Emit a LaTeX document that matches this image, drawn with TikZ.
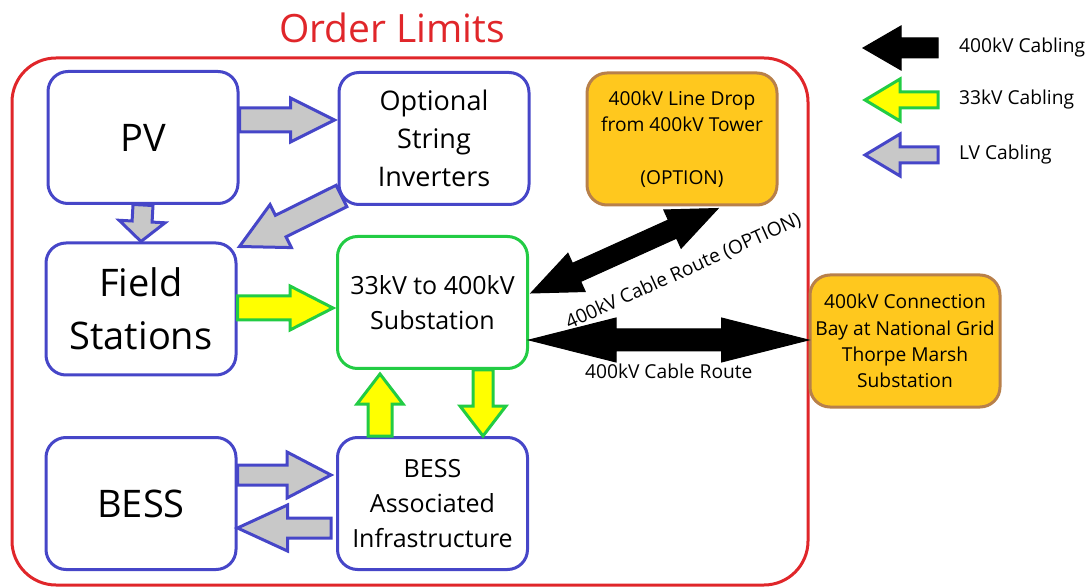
\documentclass[tikz,border=0pt]{standalone}
\usepackage{fontspec}
\setmainfont{Open Sans}
\usetikzlibrary{calc,positioning}
\definecolor{lvblue}{HTML}{4646C8}
\definecolor{lvgrey}{HTML}{C8C8C8}
\definecolor{mvgreen}{HTML}{22CC44}
\definecolor{mvyellow}{HTML}{FFFF00}
\definecolor{limred}{HTML}{E0262A}
\definecolor{optfill}{HTML}{FFC81E}
\definecolor{optedge}{HTML}{B8804A}

\tikzset{
  unit/.style={draw=lvblue,line width=1.5pt,rounded corners=10pt,fill=white,align=center,
    minimum width=95pt,minimum height=66pt,inner sep=0pt},
  subst/.style={unit,draw=mvgreen},
  option/.style={unit,draw=optedge,fill=optfill},
  lvarrow/.style={draw=lvblue,fill=lvgrey,line width=1.5pt},
  mvarrow/.style={draw=mvgreen,fill=mvyellow,line width=1.5pt},
  hvarrow/.style={draw=black,fill=black,line width=0.5pt},
  bigtext/.style={font=\fontsize{19}{26.5}\selectfont},
  midtext/.style={font=\fontsize{12.5}{17.6}\selectfont},
  smalltext/.style={font=\fontsize{9.6}{13.2}\selectfont},
}

% block arrow: style, tail, tip, shaft half width, head half width, head length
\newcommand{\fatarrow}[6]{%
  \path #2 coordinate (fa-t) #3 coordinate (fa-p);
  \path ($(fa-p)!#6!(fa-t)$) coordinate (fa-h);
  \draw[#1] ($(fa-t)!#4!90:(fa-p)$) -- ($(fa-h)!#4!90:(fa-p)$) -- ($(fa-h)!#5!90:(fa-p)$)
    -- (fa-p) -- ($(fa-h)!#5!-90:(fa-p)$) -- ($(fa-h)!#4!-90:(fa-p)$) -- ($(fa-t)!#4!-90:(fa-p)$) -- cycle;
}
% block arrow with two heads: style, end a, end b, shaft half width, head half width, head length
\newcommand{\dblarrow}[6]{%
  \path #2 coordinate (da-a) #3 coordinate (da-b);
  \path ($(da-a)!#6!(da-b)$) coordinate (da-ha) ($(da-b)!#6!(da-a)$) coordinate (da-hb);
  \draw[#1] (da-a) -- ($(da-ha)!#5!90:(da-b)$) -- ($(da-ha)!#4!90:(da-b)$) -- ($(da-hb)!#4!-90:(da-a)$)
    -- ($(da-hb)!#5!-90:(da-a)$) -- (da-b) -- ($(da-hb)!#5!90:(da-a)$) -- ($(da-hb)!#4!90:(da-a)$)
    -- ($(da-ha)!#4!-90:(da-b)$) -- ($(da-ha)!#5!-90:(da-b)$) -- cycle;
}

\begin{document}
\begin{tikzpicture}[x=0.5pt,y=-0.5pt]
\useasboundingbox (0,0) rectangle (1086,587);
% order limits
\draw[limred,line width=1.5pt,rounded corners=22pt] (12,58) rectangle (808,585);
\node[limred,font=\fontsize{19.5}{24}\selectfont] (limits) at (392,28) {Order Limits};
% boxes
\node[unit,bigtext] (pv) at (143,137.5) {PV};
\node[unit,font=\fontsize{13.5}{19}\selectfont] (inv) at (434,138.5) {Optional\\String\\Inverters};
\node[unit,bigtext] (field) at (141,309) {Field\\Stations};
\node[subst,midtext] (sub) at (432.5,302.5) {33kV to 400kV\\Substation};
\node[unit,bigtext] (bess) at (141,503.5) {BESS};
\node[unit,midtext] (infra) at (432.5,503.5) {BESS\\Associated\\Infrastructure};
\node[option,smalltext] (drop) at (682,139) {400kV Line Drop\\from 400kV Tower\\\mbox{}\\(OPTION)};
\node[option,smalltext] (grid) at (905,341) {400kV Connection\\Bay at National Grid\\Thorpe Marsh\\Substation};
% LV cabling
\fatarrow{lvarrow}{($(pv.east)+(0,-17.5)$)}{($(inv.west)+(-3,-18.5)$)}{6pt}{11pt}{22pt}
\fatarrow{lvarrow}{(pv.south)}{(field.north)}{5pt}{11.5pt}{10pt}
\fatarrow{lvarrow}{($(inv.south west)+(4,-10)$)}{($(field.north east)+(2,5)$)}{6pt}{12pt}{23pt}
\fatarrow{lvarrow}{($(bess.east)+(0,-28.5)$)}{($(infra.west)+(-5,-28.5)$)}{5pt}{11.5pt}{22pt}
\fatarrow{lvarrow}{($(infra.west)+(-5,24.5)$)}{($(bess.east)+(0,24.5)$)}{5pt}{11.5pt}{25pt}
% 33kV cabling
\fatarrow{mvarrow}{($(field.east)+(0,-1)$)}{($(sub.west)+(-3,5.5)$)}{6pt}{11pt}{21.5pt}
\fatarrow{mvarrow}{($(infra.north)+(-52.5,0)$)}{($(sub.south)+(-52.5,4)$)}{6pt}{11.5pt}{15pt}
\fatarrow{mvarrow}{($(sub.south)+(50.5,0)$)}{($(infra.north)+(50.5,0)$)}{5pt}{11.5pt}{15pt}
% 400kV cabling
\dblarrow{hvarrow}{($(sub.east)+(0,37.5)$)}{($(grid.west)+(0,-1)$)}{5.5pt}{11pt}{43.5pt}
\path ($(sub.east)+(0,37.5)$) -- ($(grid.west)+(0,-1)$)
  node[midway,below=12pt,inner sep=0pt,smalltext] (route) {400kV Cable Route};
\dblarrow{hvarrow}{($(sub.east)+(2,-9.5)$)}{($(drop.south)+(36,2)$)}{5pt}{10.5pt}{25pt}
\path ($(sub.east)+(2,-9.5)$) -- ($(drop.south)+(36,2)$)
  node[pos=0.72,below=17pt,sloped,inner sep=0pt,smalltext] (option) {400kV Cable Route (OPTION)};
% legend
\node[smalltext,anchor=west] (key1) at (952,48) {400kV Cabling};
\node[smalltext,anchor=west] (key2) at (952,100) {33kV Cabling};
\node[smalltext,anchor=west] (key3) at (952,155) {LV Cabling};
\fatarrow{hvarrow}{($(key1.west)+(-14,0)$)}{($(key1.west)+(-89,0)$)}{5pt}{11pt}{19pt}
\fatarrow{mvarrow}{($(key2.west)+(-14,0)$)}{($(key2.west)+(-87,0)$)}{4pt}{10.5pt}{17.5pt}
\fatarrow{lvarrow}{($(key3.west)+(-14,0)$)}{($(key3.west)+(-87,0)$)}{4pt}{10.5pt}{17.5pt}
\end{tikzpicture}
\end{document}
